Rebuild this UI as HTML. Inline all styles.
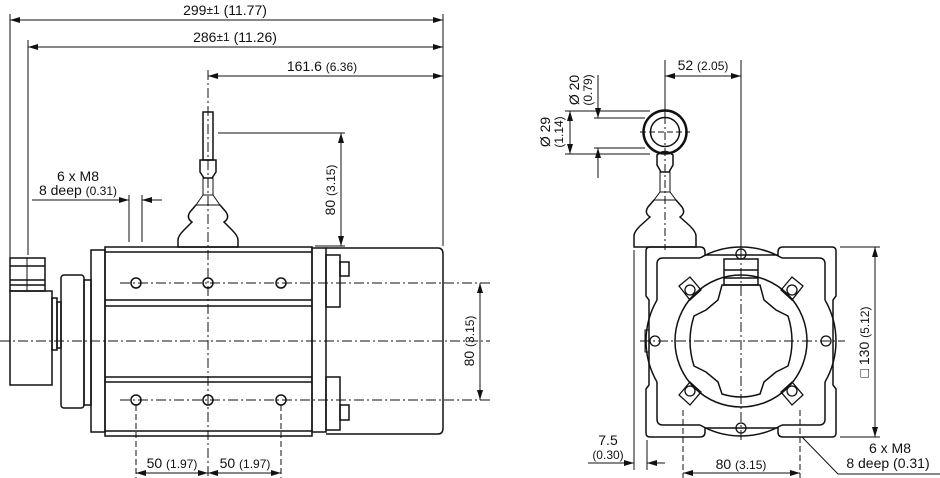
<!DOCTYPE html>
<html><head><meta charset="utf-8"><style>
html,body{margin:0;padding:0;background:#fff;}
svg{display:block;}
text{font-family:"Liberation Sans",sans-serif;fill:#111;font-size:14px;}
.s{font-size:12px;}
</style></head><body>
<svg width="940" height="478" viewBox="0 0 940 478" xmlns="http://www.w3.org/2000/svg">
<defs>
<marker id="a" viewBox="0 0 10 6" refX="10" refY="3" markerWidth="10" markerHeight="6" orient="auto-start-reverse" markerUnits="userSpaceOnUse"><path d="M0,0L10,3L0,6z" fill="#111"/></marker>
</defs>
<g stroke="#111" fill="none" stroke-width="1">
<line x1="10" y1="20" x2="443" y2="20" marker-start="url(#a)" marker-end="url(#a)"/>
<line x1="28" y1="47" x2="443" y2="47" marker-start="url(#a)" marker-end="url(#a)"/>
<line x1="208" y1="76" x2="443" y2="76" marker-start="url(#a)" marker-end="url(#a)"/>
<line x1="10" y1="14" x2="10" y2="258"/>
<line x1="28" y1="40" x2="28" y2="255"/>
<line x1="443" y1="14" x2="443" y2="246"/>
<line x1="208" y1="70" x2="208" y2="478" stroke-dasharray="10,3,2,3"/>
<line x1="0" y1="341" x2="490" y2="341" stroke-dasharray="10,3,2,3"/>
<line x1="120" y1="283" x2="490" y2="283" stroke-dasharray="10,3,2,3"/>
<line x1="120" y1="400" x2="490" y2="400" stroke-dasharray="10,3,2,3"/>
<rect x="203" y="112" width="10" height="48" stroke-width="1.5"/>
<path d="M200,160 L216,160 L216,172 L212,178 L204,178 L200,172Z" stroke-width="1.5"/>
<rect x="203" y="178" width="10" height="17"/>
<path d="M203,195 L213,195 L220,205 L196,205Z"/>
<path d="M196,205 L190,212 Q186,218 192,222 L184,230 Q178,236 178,240 L178,247 L238,247 L238,240 Q238,236 232,230 L224,222 Q230,218 226,212 L220,205" stroke-width="1.5"/>
<line x1="218" y1="133" x2="345" y2="133"/>
<line x1="315" y1="246" x2="345" y2="246"/>
<line x1="341" y1="133" x2="341" y2="246" marker-start="url(#a)" marker-end="url(#a)"/>
<g stroke-width="1.5">
<rect x="91" y="250" width="14" height="182"/>
<rect x="105" y="247" width="207" height="189"/>
<line x1="105" y1="252" x2="312" y2="252"/>
<line x1="105" y1="300" x2="312" y2="300"/>
<line x1="105" y1="306" x2="312" y2="306"/>
<line x1="105" y1="377" x2="312" y2="377"/>
<line x1="105" y1="382" x2="312" y2="382"/>
<line x1="105" y1="431" x2="312" y2="431"/>
<rect x="312" y="248" width="14" height="184"/>
<path d="M326,248 L438,248 Q443,248 443,254 L443,428 Q443,434 438,434 L326,434"/>
<rect x="326" y="255" width="14" height="52"/>
<rect x="326" y="377" width="14" height="53"/>
<rect x="340" y="262" width="9" height="14"/>
<rect x="340" y="405" width="9" height="15"/>
<rect x="10" y="258" width="35" height="33"/>
<line x1="10" y1="266" x2="45" y2="266"/>
<line x1="10" y1="280" x2="45" y2="280"/>
<line x1="10" y1="285" x2="45" y2="285"/>
<rect x="10" y="291" width="42" height="94"/>
<rect x="52" y="298" width="5" height="52"/>
<rect x="57" y="302" width="4" height="46"/>
<rect x="61" y="275" width="23" height="133" rx="3"/>
<rect x="84" y="280" width="7" height="125"/>
</g>
<line x1="27" y1="258" x2="27" y2="291"/>
<circle cx="136" cy="283" r="5" stroke-width="1.5"/><circle cx="208" cy="283" r="5" stroke-width="1.5"/><circle cx="281" cy="283" r="5" stroke-width="1.5"/>
<circle cx="136" cy="400" r="5" stroke-width="1.5"/><circle cx="208" cy="400" r="5" stroke-width="1.5"/><circle cx="281" cy="400" r="5" stroke-width="1.5"/>
<line x1="32" y1="200" x2="129" y2="200" marker-end="url(#a)"/>
<line x1="162" y1="200" x2="142" y2="200" marker-end="url(#a)"/>
<line x1="129" y1="195" x2="129" y2="242"/>
<line x1="142" y1="195" x2="142" y2="242"/>
<line x1="136" y1="405" x2="136" y2="478" stroke-dasharray="6,3"/>
<line x1="281" y1="405" x2="281" y2="478" stroke-dasharray="6,3"/>
<line x1="136" y1="473" x2="208" y2="473" marker-start="url(#a)" marker-end="url(#a)"/>
<line x1="208" y1="473" x2="281" y2="473" marker-start="url(#a)" marker-end="url(#a)"/>
<line x1="480" y1="283" x2="480" y2="400" marker-start="url(#a)" marker-end="url(#a)"/>

<!-- RIGHT VIEW -->
<line x1="665" y1="60" x2="665" y2="120"/>
<line x1="741" y1="60" x2="741" y2="250"/>
<line x1="665" y1="76" x2="741" y2="76" marker-start="url(#a)" marker-end="url(#a)"/>
<circle cx="665" cy="132" r="21.5" stroke-width="2.5"/>
<circle cx="665" cy="132" r="14.5" stroke-width="1.5"/>
<line x1="640" y1="132" x2="690" y2="132" stroke-dasharray="6,3"/>
<line x1="665" y1="100" x2="665" y2="250" stroke-dasharray="8,3,2,3"/>
<line x1="565" y1="111" x2="650" y2="111"/>
<line x1="565" y1="154" x2="650" y2="154"/>
<line x1="594" y1="118" x2="645" y2="118"/>
<line x1="594" y1="148" x2="645" y2="148"/>
<line x1="570" y1="111" x2="570" y2="154" marker-start="url(#a)" marker-end="url(#a)"/>
<line x1="598" y1="75" x2="598" y2="118" marker-end="url(#a)"/>
<line x1="598" y1="178" x2="598" y2="148" marker-end="url(#a)"/>
<path d="M657,155 Q665,148 673,155 L673,165 L669,172 L661,172 L657,165Z" stroke-width="1.5"/>
<rect x="660" y="172" width="10" height="20"/>
<path d="M660,192 L670,192 L676,200 L654,200Z"/>
<path d="M654,200 L648,207 Q644,213 650,217 L640,226 Q634,232 634,236 L634,247 L696,247 L696,236 Q696,232 690,226 L680,217 Q686,213 682,207 L676,200" stroke-width="1.5"/>
<g stroke-width="1.5">
<path d="M650,247 L700,247 Q705,247 705,252 L705,255 L778,255 L778,252 Q778,247 783,247 L832,247 Q836,247 836,251 L836,296 L833,300 L833,385 L836,389 L836,433 Q836,437 832,437 L783,437 Q778,437 778,432 L778,428 L705,428 L705,432 Q705,437 700,437 L650,437 Q646,437 646,433 L646,389 L649,385 L649,300 L646,296 L646,251 Q646,247 650,247Z"/>
<path d="M700,258 L663,258 Q657,258 657,264 L657,300 M657,382 L657,419 Q657,425 663,425 L700,425 M782,425 L819,425 Q825,425 825,419 L825,382 M825,300 L825,264 Q825,258 819,258 L782,258"/>
<path d="M700,258 A82,82 0 0 1 782,258 M825,300 A82,82 0 0 1 825,382 M782,425 A82,82 0 0 1 700,425 M657,382 A82,82 0 0 1 657,300"/>
<circle cx="741" cy="341" r="66"/>
<path d="M722,285 L760,285 L764,300 L776,310 L788,316 Q796,341 788,366 L776,372 L764,382 L760,394 Q741,400 722,394 L718,382 L706,372 L694,366 Q686,341 694,316 L706,310 L718,300Z"/>
<rect x="724" y="259" width="34" height="26"/>
<line x1="724" y1="270" x2="758" y2="270"/>
<line x1="724" y1="278" x2="758" y2="278"/>
</g>
<g stroke-width="1.3">
<circle cx="741" cy="254" r="5"/><circle cx="741" cy="428" r="5"/>
<circle cx="655" cy="341" r="5"/><circle cx="826" cy="341" r="5"/>
<circle cx="690" cy="290" r="5"/><circle cx="792" cy="290" r="5"/>
<circle cx="690" cy="391" r="5"/><circle cx="792" cy="391" r="5"/>
<path d="M679,286 L690,277 L701,290 L690,300Z"/><path d="M781,290 L792,277 L803,286 L792,300Z"/>
<path d="M679,395 L690,382 L701,392 L690,405Z"/><path d="M781,392 L792,382 L803,395 L792,405Z"/>
</g>
<rect x="645" y="330" width="4" height="22"/>
<line x1="741" y1="250" x2="741" y2="440" stroke-dasharray="10,3,2,3"/>
<line x1="640" y1="341" x2="845" y2="341" stroke-dasharray="10,3,2,3"/>
<line x1="840" y1="247" x2="880" y2="247"/>
<line x1="840" y1="437" x2="880" y2="437"/>
<line x1="875" y1="247" x2="875" y2="437" marker-start="url(#a)" marker-end="url(#a)"/>
<line x1="683" y1="410" x2="683" y2="478" stroke-dasharray="6,3"/>
<line x1="800" y1="410" x2="800" y2="478" stroke-dasharray="6,3"/>
<line x1="683" y1="473" x2="800" y2="473" marker-start="url(#a)" marker-end="url(#a)"/>
<line x1="634" y1="250" x2="634" y2="470"/>
<line x1="647" y1="440" x2="647" y2="470"/>
<line x1="588" y1="463" x2="634" y2="463" marker-end="url(#a)"/>
<line x1="665" y1="463" x2="647" y2="463" marker-end="url(#a)"/>
<polyline points="802,437 838,474 940,474"/>
</g>
<text x="225" y="15" text-anchor="middle">299<tspan class="s" dy="-1">±1</tspan><tspan dy="1"> (11.77)</tspan></text>
<text x="235" y="42" text-anchor="middle">286<tspan class="s" dy="-1">±1</tspan><tspan dy="1"> (11.26)</tspan></text>
<text x="322" y="71" text-anchor="middle">161.6 <tspan class="s">(6.36)</tspan></text>
<text transform="translate(335,190) rotate(-90)" text-anchor="middle">80 <tspan class="s">(3.15)</tspan></text>
<text x="78" y="181" text-anchor="middle">6 x M8</text>
<text x="78" y="195" text-anchor="middle">8 deep <tspan class="s">(0.31)</tspan></text>
<text x="172" y="468" text-anchor="middle">50 <tspan class="s">(1.97)</tspan></text>
<text x="245" y="468" text-anchor="middle">50 <tspan class="s">(1.97)</tspan></text>
<text transform="translate(474,341) rotate(-90)" text-anchor="middle">80 <tspan class="s">(3.15)</tspan></text>
<text x="703" y="70" text-anchor="middle">52 <tspan class="s">(2.05)</tspan></text>
<text transform="translate(579,90) rotate(-90)" text-anchor="middle">Ø 20</text>
<text transform="translate(592,90) rotate(-90)" text-anchor="middle" class="s">(0.79)</text>
<text transform="translate(550,132) rotate(-90)" text-anchor="middle">Ø 29</text>
<text transform="translate(563,132) rotate(-90)" text-anchor="middle" class="s">(1.14)</text>
<text transform="translate(869,342) rotate(-90)" text-anchor="middle">□ 130 <tspan class="s">(5.12)</tspan></text>
<text x="741" y="469" text-anchor="middle">80 <tspan class="s">(3.15)</tspan></text>
<text x="608" y="445" text-anchor="middle">7.5</text>
<text x="608" y="459" text-anchor="middle" class="s">(0.30)</text>
<text x="890" y="453" text-anchor="middle">6 x M8</text>
<text x="888" y="468" text-anchor="middle">8 deep (0.31)</text>
</svg>
</body></html>
